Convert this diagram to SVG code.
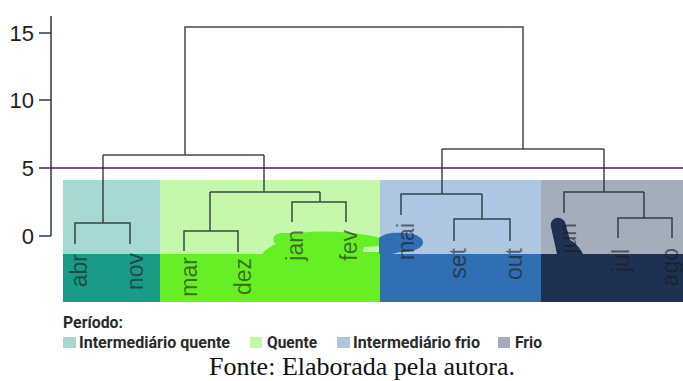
<svg xmlns="http://www.w3.org/2000/svg" width="683" height="381" viewBox="0 0 683 381">
<style>
.tick{font-family:"Liberation Sans",Arial,sans-serif;font-size:22px;fill:#1e1e1e;text-anchor:end}
.leaf{font-family:"Liberation Sans",Arial,sans-serif;font-size:23px;fill:#1a1a1a;fill-opacity:0.6;text-anchor:end}
.leg{font-family:Roboto,"DejaVu Sans",sans-serif;font-weight:bold;font-size:17px;fill:#2a2a2a}
.den{fill:none;stroke:#1f2a30;stroke-opacity:0.85;stroke-width:1.5}
.ax{fill:none;stroke:#2d3a3c;stroke-width:1.5}
</style>
<rect width="683" height="381" fill="#ffffff"/>
<g id="bands">
<rect x="63" y="180" width="97" height="74" fill="#a6d9d1"/>
<rect x="63" y="254" width="97" height="48" fill="#1a9b86"/>
<rect x="160" y="180" width="220" height="74" fill="#c6f8ab"/>
<rect x="160" y="254" width="220" height="48" fill="#66ef25"/>
<rect x="380" y="180" width="161" height="74" fill="#adc7e2"/>
<rect x="380" y="254" width="161" height="48" fill="#2f6fb2"/>
<rect x="541" y="180" width="142" height="74" fill="#a5adbb"/>
<rect x="541" y="254" width="142" height="48" fill="#1e3153"/>
<path d="M262,254 C266,249 271,246 276,244 C271,240 273,234 281,233 L300,233 C322,230 352,232 372,236 L381,238 L381,246 L364,247 L363,252 L381,252 L381,254 Z" fill="#66ef25"/>
<path d="M379,254 L379,238 C384,233 394,232 404,233 C416,233 424,238 423,243 C422,249 412,252 400,252 L392,254 Z" fill="#2f6fb2"/>
<path d="M557,254 L551,227 C549,218 560,214 565,222 L570,240 C576,243 580,248 583,254 Z" fill="#1e3153"/>
</g>
<g id="axis">
<line class="ax" x1="51" y1="16" x2="51" y2="236"/>
<line class="ax" x1="39" y1="33" x2="51" y2="33"/>
<line class="ax" x1="39" y1="100" x2="51" y2="100"/>
<line class="ax" x1="39" y1="236" x2="51" y2="236"/>
<text class="tick" x="34" y="41">15</text>
<text class="tick" x="34" y="108">10</text>
<text class="tick" x="34" y="176">5</text>
<text class="tick" x="34" y="244">0</text>
</g>
<line id="cut" x1="39" y1="168" x2="683" y2="168" stroke="#4a2050" stroke-width="1.5"/>
<g id="connectors">
<path class="den" d="M75,244 V223 H130 V244 M103,223 V155"/>
<path class="den" d="M184,251 V231 H238 V252 M210,231 V192"/>
<path class="den" d="M292,222 V202 H346 V222 M320,202 V192"/>
<path class="den" d="M210,192 H320 M264,192 V155"/>
<path class="den" d="M103,155 H264 M185,155 V27 H523 V149"/>
<path class="den" d="M454,241 V219 H510 V241 M482,219 V194"/>
<path class="den" d="M401,215 V194 H482 M442,194 V149"/>
<path class="den" d="M618,238 V218 H672 V238 M644,218 V192"/>
<path class="den" d="M564,213 V192 H644 M604,192 V149"/>
<path class="den" d="M442,149 H604"/>
</g>
<g id="leaf-abr"><text class="leaf" transform="translate(87,254) rotate(-90)">abr</text></g>
<g id="leaf-nov"><text class="leaf" transform="translate(143,253) rotate(-90)">nov</text></g>
<g id="leaf-mar"><text class="leaf" transform="translate(197,257) rotate(-90)">mar</text></g>
<g id="leaf-dez"><text class="leaf" transform="translate(251,258) rotate(-90)">dez</text></g>
<g id="leaf-jan"><text class="leaf" transform="translate(303,230) rotate(-90)">jan</text></g>
<g id="leaf-fev"><text class="leaf" transform="translate(357,230) rotate(-90)">fev</text></g>
<g id="leaf-mai"><text class="leaf" transform="translate(414,223) rotate(-90)">mai</text></g>
<g id="leaf-set"><text class="leaf" transform="translate(466,248) rotate(-90)">set</text></g>
<g id="leaf-out"><text class="leaf" transform="translate(522,248) rotate(-90)">out</text></g>
<g id="leaf-jun"><text class="leaf" transform="translate(576,223) rotate(-90)">jun</text></g>
<g id="leaf-jul"><text class="leaf" transform="translate(629,249) rotate(-90)">jul</text></g>
<g id="leaf-ago"><text class="leaf" transform="translate(678,248) rotate(-90)">ago</text></g>
<g id="legend">
<text class="leg" x="63" y="328" textLength="60" lengthAdjust="spacingAndGlyphs">Período:</text>
<rect x="63" y="337" width="13" height="11" fill="#a6d9d1"/>
<text class="leg" x="79" y="348" textLength="151" lengthAdjust="spacingAndGlyphs">Intermediário quente</text>
<rect x="250" y="337" width="12" height="11" fill="#c6f8ab"/>
<text class="leg" x="267" y="348" textLength="50" lengthAdjust="spacingAndGlyphs">Quente</text>
<rect x="337" y="337" width="13" height="11" fill="#adc7e2"/>
<text class="leg" x="353" y="348" textLength="127" lengthAdjust="spacingAndGlyphs">Intermediário frio</text>
<rect x="498" y="337" width="12" height="11" fill="#a5adbb"/>
<text class="leg" x="515" y="348" textLength="27" lengthAdjust="spacingAndGlyphs">Frio</text>
</g>
<text id="caption" x="362" y="375" font-family="'Liberation Serif','Times New Roman',serif" font-size="26" fill="#111" text-anchor="middle">Fonte: Elaborada pela autora.</text>
</svg>
